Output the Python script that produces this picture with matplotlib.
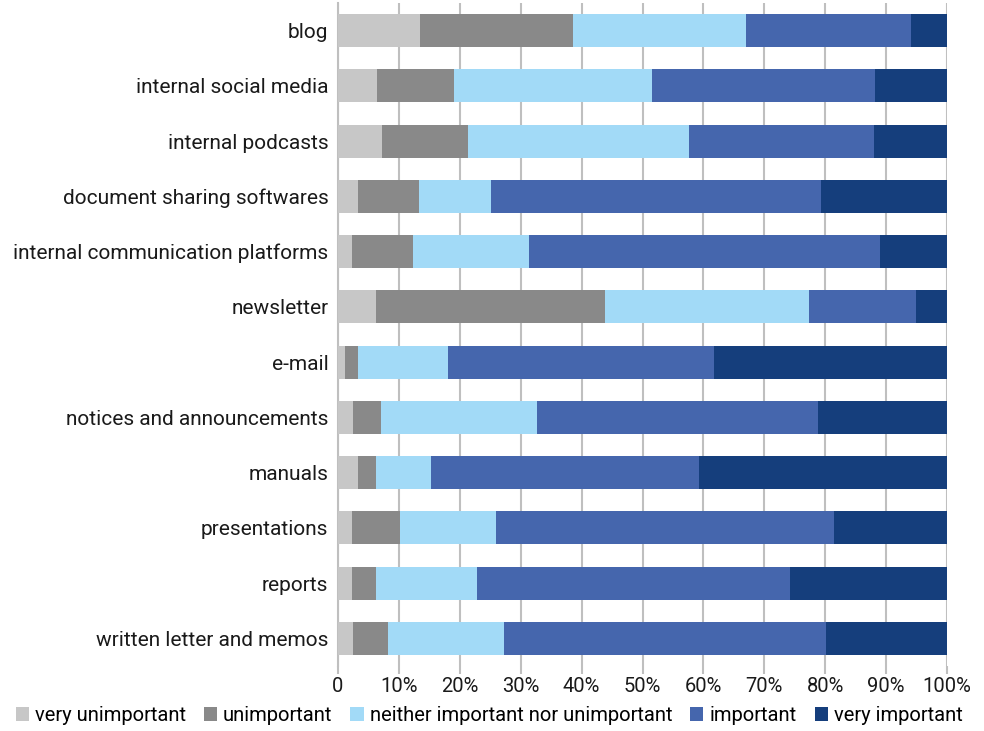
import matplotlib.pyplot as plt
import numpy as np

plt.rcParams["font.family"] = ["Roboto", "DejaVu Sans"]

# Share of answers per channel (%), top to bottom
channels = [
    "blog",
    "internal social media",
    "internal podcasts",
    "document sharing softwares",
    "internal communication platforms",
    "newsletter",
    "e-mail",
    "notices and announcements",
    "manuals",
    "presentations",
    "reports",
    "written letter and memos",
]
very_unimportant = [13.5, 6.4, 7.2, 3.3, 2.3, 6.2, 1.1, 2.4, 3.3, 2.3, 2.3, 2.4]
unimportant = [25.0, 12.7, 14.2, 10.0, 10.0, 37.6, 2.2, 4.6, 2.9, 7.9, 3.9, 5.8]
neither = [28.5, 32.5, 36.3, 11.8, 19.1, 33.5, 14.7, 25.7, 9.0, 15.8, 16.7, 19.1]
important = [27.1, 36.6, 30.3, 54.2, 57.6, 17.6, 43.7, 46.1, 44.0, 55.4, 51.3, 52.8]
very_important = [5.9, 11.8, 12.0, 20.7, 11.0, 5.1, 38.3, 21.2, 40.8, 18.6, 25.8, 19.9]

series = [
    ("very unimportant", very_unimportant, "#C7C7C7"),
    ("unimportant", unimportant, "#898989"),
    ("neither important nor unimportant", neither, "#A2DAF7"),
    ("important", important, "#4566AD"),
    ("very important", very_important, "#153E7C"),
]

fig = plt.figure(figsize=(9.84, 7.31), dpi=100)
ax = fig.add_axes([0.3435, 0.0889, 0.619, 0.907])

y = np.arange(len(channels))
left = np.zeros(len(channels))
for name, vals, color in series:
    vals = np.array(vals)
    ax.barh(y, vals, left=left, height=0.6, color=color, label=name, zorder=3)
    left += vals

ax.set_ylim(len(channels) - 0.5, -0.5)
ax.set_xlim(0, 100)
ax.set_yticks(y)
ax.set_yticklabels(channels, fontsize=15)
ax.set_xticks(np.arange(0, 101, 10))
ax.set_xticklabels(["0"] + [f"{v}%" for v in range(10, 101, 10)], fontsize=14.5)

ax.grid(axis="x", color="#BFBFBF", linewidth=1.5, zorder=0)
for side in ["top", "right", "bottom"]:
    ax.spines[side].set_visible(False)
ax.spines["left"].set_color("#BFBFBF")
ax.spines["left"].set_linewidth(1.5)
ax.tick_params(axis="y", length=0, pad=7, colors="#1a1a1a")
ax.tick_params(axis="x", length=6, width=1.5, color="#BFBFBF", pad=2,
               labelcolor="#1a1a1a")

fig.legend(
    loc="center",
    bbox_to_anchor=(0.497, 0.021),
    ncol=5,
    frameon=False,
    fontsize=14.5,
    handlelength=0.65,
    handleheight=0.65,
    handletextpad=0.3,
    columnspacing=0.9,
)

fig.savefig("out.png", dpi=100)
